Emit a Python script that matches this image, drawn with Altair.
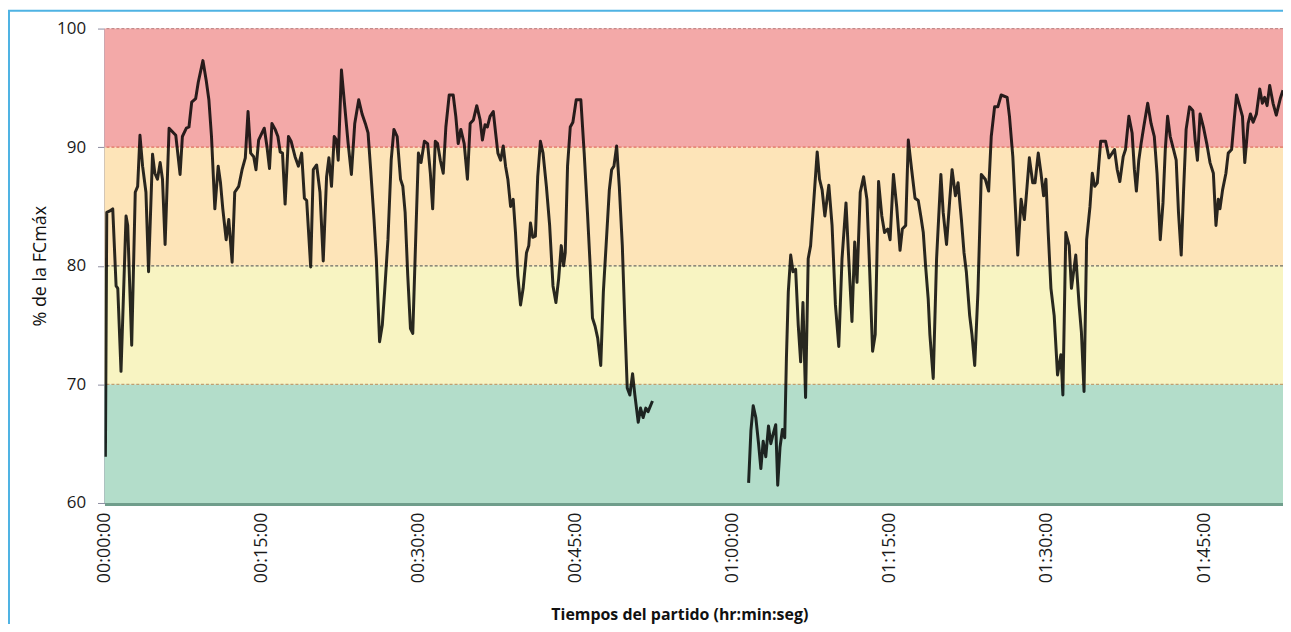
import altair as alt
import pandas as pd

# ---- data (minutes from kick-off, % of HRmax) ----
seg1_min = [0.09, 0.22, 0.47, 0.79, 1.11, 1.27, 1.58, 2.06, 2.22, 2.60,
            2.94, 3.17, 3.39, 3.64, 3.96, 4.21, 4.59, 4.81, 5.06, 5.32,
            5.54, 5.79, 6.17, 6.49, 6.81, 7.22, 7.44, 7.82, 8.07, 8.33,
            8.71, 8.96, 9.40, 9.72, 9.97, 10.22, 10.54, 10.86, 11.08, 11.30,
            11.62, 11.87, 12.19, 12.44, 12.82, 13.14, 13.45, 13.71, 13.96, 14.25,
            14.47, 14.72, 15.04, 15.26, 15.51, 15.76, 15.99, 16.30, 16.56, 16.78,
            17.00, 17.25, 17.57, 17.82, 18.20, 18.52, 18.83, 19.09, 19.31, 19.69,
            19.94, 20.26, 20.58, 20.89, 21.21, 21.43, 21.68, 21.94, 22.16, 22.32,
            22.63, 22.95, 23.27, 23.58, 23.90, 24.28, 24.60, 24.91, 25.17, 25.42,
            25.74, 25.96, 26.27, 26.53, 26.75, 27.07, 27.38, 27.64, 27.95, 28.27,
            28.49, 28.71, 28.96, 29.22, 29.44, 29.76, 29.98, 30.23, 30.55, 30.86,
            31.12, 31.34, 31.59, 31.81, 32.07, 32.35, 32.60, 32.92, 33.30, 33.55,
            33.78, 34.03, 34.35, 34.66, 34.92, 35.23, 35.55, 35.87, 36.09, 36.34,
            36.56, 36.82, 37.13, 37.35, 37.57, 37.83, 38.08, 38.30, 38.52, 38.78,
            39.03, 39.25, 39.47, 39.73, 39.98, 40.30, 40.52, 40.68, 40.90, 41.15,
            41.37, 41.63, 41.88, 42.20, 42.51, 42.83, 43.11, 43.37, 43.62, 43.84,
            44.00, 44.22, 44.48, 44.73, 45.05, 45.49, 45.81, 46.12, 46.38, 46.60,
            46.85, 47.10, 47.39, 47.64, 47.90, 48.21, 48.43, 48.65, 48.91, 49.16,
            49.45, 49.70, 49.92, 50.17, 50.43, 50.65, 50.97, 51.19, 51.44, 51.69,
            51.91, 52.33]
seg1_val = [63.9, 84.5, 84.6, 84.8, 78.3, 78.1, 71.1, 84.2, 83.4, 73.3,
            86.2, 86.7, 91.0, 88.4, 86.2, 79.5, 89.4, 87.8, 87.3, 88.7,
            87.3, 81.8, 91.6, 91.3, 91.0, 87.7, 90.9, 91.6, 91.7, 93.8,
            94.1, 95.5, 97.3, 95.6, 94.0, 90.9, 84.8, 88.4, 87.0, 84.8,
            82.2, 83.9, 80.3, 86.2, 86.7, 88.1, 89.1, 93.0, 89.5, 89.2,
            88.1, 90.6, 91.2, 91.6, 90.1, 88.2, 92.0, 91.5, 90.9, 89.6,
            89.5, 85.2, 90.9, 90.5, 89.2, 88.4, 89.5, 85.7, 85.5, 79.9,
            88.1, 88.5, 86.2, 80.4, 87.5, 89.1, 86.7, 90.9, 90.6, 88.9,
            96.5, 93.4, 90.3, 87.7, 92.0, 94.0, 92.8, 92.0, 91.2, 88.1,
            83.9, 80.6, 73.6, 75.0, 77.8, 82.2, 88.9, 91.5, 90.9, 87.3,
            86.7, 84.5, 79.2, 74.7, 74.3, 83.4, 89.5, 88.7, 90.5, 90.3,
            87.8, 84.8, 90.5, 90.3, 88.9, 87.8, 91.7, 94.4, 94.4, 92.6,
            90.3, 91.5, 90.3, 87.3, 92.0, 92.3, 93.5, 92.3, 90.6, 91.9,
            91.7, 92.6, 93.0, 91.2, 89.5, 88.9, 90.1, 88.4, 87.3, 85.0,
            85.6, 82.8, 79.2, 76.7, 78.1, 81.1, 81.7, 83.6, 82.4, 82.5,
            87.5, 90.5, 89.5, 86.7, 83.4, 78.3, 76.9, 78.9, 81.7, 80.0,
            81.1, 88.4, 91.7, 92.1, 94.0, 94.0, 89.5, 84.5, 80.0, 75.6,
            74.9, 73.9, 71.6, 77.8, 81.7, 86.4, 88.1, 88.4, 90.1, 86.7,
            81.7, 75.0, 69.7, 69.1, 70.9, 69.1, 66.8, 68.0, 67.2, 68.0,
            67.7, 68.6]

seg2_min = [61.51, 61.73, 61.95, 62.20, 62.46, 62.68, 62.90, 63.15, 63.41, 63.63,
            63.85, 64.10, 64.29, 64.51, 64.74, 64.96, 65.12, 65.30, 65.53, 65.75,
            66.00, 66.25, 66.48, 66.70, 66.95, 67.20, 67.43, 67.68, 68.06, 68.28,
            68.53, 68.79, 69.17, 69.48, 69.80, 70.12, 70.43, 70.81, 71.07, 71.38,
            71.64, 71.86, 72.17, 72.49, 72.81, 73.03, 73.35, 73.60, 73.92, 74.23,
            74.49, 74.80, 75.02, 75.34, 75.65, 75.97, 76.19, 76.51, 76.76, 77.08,
            77.40, 77.71, 77.97, 78.19, 78.41, 78.66, 78.82, 79.14, 79.46, 79.87,
            80.09, 80.41, 80.72, 80.94, 81.26, 81.51, 81.83, 82.08, 82.30, 82.62,
            82.84, 83.10, 83.41, 83.73, 84.11, 84.43, 84.68, 85.00, 85.31, 85.63,
            86.20, 86.42, 86.74, 86.96, 87.21, 87.53, 87.84, 88.10, 88.32, 88.64,
            88.86, 89.17, 89.43, 89.68, 89.90, 90.12, 90.38, 90.69, 91.01, 91.33,
            91.52, 91.80, 92.12, 92.34, 92.75, 93.07, 93.29, 93.54, 93.79, 94.11,
            94.33, 94.56, 94.81, 95.13, 95.60, 95.92, 96.23, 96.45, 96.71, 96.96,
            97.28, 97.50, 97.82, 98.13, 98.35, 98.54, 98.77, 98.99, 99.24, 99.62,
            99.94, 100.25, 100.51, 100.82, 101.08, 101.30, 101.52, 101.77, 102.09, 102.34,
            102.56, 102.82, 103.04, 103.29, 103.61, 103.93, 104.15, 104.37, 104.62, 104.94,
            105.26, 105.57, 105.89, 106.14, 106.36, 106.52, 106.77, 107.09, 107.31, 107.63,
            107.85, 108.10, 108.42, 108.67, 108.89, 109.21, 109.43, 109.69, 110.00, 110.32,
            110.57, 110.79, 111.02, 111.27, 111.59, 111.90, 112.28, 112.54]
seg2_val = [61.7, 66.1, 68.2, 67.2, 65.0, 62.9, 65.2, 63.9, 66.5, 65.0,
            65.8, 66.6, 61.5, 64.7, 66.2, 65.5, 72.2, 77.8, 80.9, 79.5,
            79.7, 75.0, 71.9, 76.9, 68.9, 80.6, 81.7, 84.8, 89.6, 87.3,
            86.4, 84.2, 86.8, 83.4, 76.7, 73.2, 80.6, 85.3, 80.6, 75.3,
            82.0, 78.6, 86.2, 87.5, 85.6, 80.6, 72.8, 74.2, 87.1, 84.2,
            82.8, 83.1, 82.2, 87.7, 85.0, 81.3, 83.1, 83.4, 90.6, 88.1,
            85.7, 85.5, 84.1, 82.8, 80.0, 77.2, 74.2, 70.5, 80.6, 87.7,
            84.5, 81.8, 85.6, 88.1, 85.9, 87.0, 83.9, 81.1, 79.5, 75.8,
            74.2, 71.6, 77.8, 87.7, 87.3, 86.3, 90.9, 93.4, 93.4, 94.4,
            94.2, 92.6, 89.2, 85.3, 80.9, 85.6, 83.9, 86.7, 89.1, 87.0,
            87.0, 89.5, 87.8, 85.9, 87.3, 82.8, 78.1, 75.8, 70.8, 72.5,
            69.1, 82.8, 81.7, 78.1, 80.9, 76.7, 74.4, 69.4, 82.2, 85.0,
            87.8, 86.7, 87.0, 90.5, 90.5, 89.1, 89.5, 89.8, 88.1, 87.1,
            89.2, 89.8, 92.6, 91.2, 88.1, 86.3, 88.9, 90.3, 91.7, 93.7,
            92.0, 90.9, 87.8, 82.2, 85.3, 89.8, 92.6, 90.9, 89.8, 88.9,
            84.5, 80.9, 86.2, 91.5, 93.4, 93.1, 90.6, 88.9, 92.8, 91.7,
            90.3, 88.7, 87.8, 83.4, 85.6, 84.8, 86.4, 87.8, 89.5, 89.8,
            92.0, 94.4, 93.4, 92.6, 88.7, 92.0, 92.8, 92.1, 92.8, 94.9,
            93.7, 94.2, 93.5, 95.2, 93.7, 92.7, 94.1, 94.8]

zone_low = [60, 70, 80, 90]
zone_high = [70, 80, 90, 100]
zone_colors = ["#b3ddca", "#f8f4c2", "#fde4b8", "#f3a9a8"]

ref_values = [70, 80, 90, 100]
ref_colors = ["#c0a070", "#6b6b62", "#e0735e", "#c48a8a"]

x_ticks = [0, 15, 30, 45, 60, 75, 90, 105]
y_ticks = [60, 70, 80, 90, 100]
x_max = 112.54

W, H = 1185, 477

# ---- tables ----
line_df = pd.concat([
    pd.DataFrame({"m": seg1_min, "v": seg1_val, "seg": "a"}),
    pd.DataFrame({"m": seg2_min, "v": seg2_val, "seg": "b"}),
])
zones_df = pd.DataFrame({"lo": zone_low, "hi": zone_high, "c": zone_colors})
refs_df = pd.DataFrame({"v": ref_values, "c": ref_colors})

FONT = "Open Sans"
yscale = alt.Scale(domain=[60, 100], nice=False, zero=False)
xscale = alt.Scale(domain=[0, x_max], nice=False, zero=False)

yaxis = alt.Axis(values=y_ticks, grid=False, domainColor="#8c8ca0", domainWidth=1.5,
                 tickColor="#8c8ca0", tickSize=7, labelPadding=12,
                 labelFont=FONT, labelFontSize=17, labelColor="#1a1a1a",
                 title="% de la FCmáx", titleFont=FONT, titleFontSize=18,
                 titleFontWeight="normal", titleColor="#111111",
                 titleX=-64, titleY=H / 2, titleAngle=270, titleAlign="center",
                 titleBaseline="middle")

label_expr = ("pad(toString(floor(datum.value/60)), 2, '0', 'left') + ':' + "
              "pad(toString(datum.value % 60), 2, '0', 'left') + ':00'")

xaxis = alt.Axis(values=x_ticks, grid=False, ticks=False, domainColor="#6f9d8b",
                 domainWidth=5, labelAngle=270, labelAlign="right",
                 labelBaseline="middle", labelPadding=9, labelOverlap=False,
                 labelFlush=False, labelExpr=label_expr,
                 labelFont=FONT, labelFontSize=18, labelColor="#1a1a1a",
                 title="Tiempos del partido (hr:min:seg)", titleFont=FONT,
                 titleFontSize=16, titleFontWeight="bold", titleColor="#111111",
                 titleX=578, titleY=112, titleAlign="center", titleBaseline="middle")

zones = alt.Chart(zones_df).mark_rect().encode(
    x=alt.value(0), x2=alt.value(W),
    y=alt.Y("lo:Q", scale=yscale, axis=yaxis), y2="hi:Q",
    color=alt.Color("c:N", scale=None),
)

refs = alt.Chart(refs_df).mark_rule(strokeDash=[3, 2], strokeWidth=1.3).encode(
    y=alt.Y("v:Q", scale=yscale, axis=yaxis),
    color=alt.Color("c:N", scale=None),
)

line = alt.Chart(line_df).mark_line(color="#000000", opacity=0.84, strokeWidth=3,
                                    strokeJoin="round", clip=True).encode(
    x=alt.X("m:Q", scale=xscale, axis=xaxis),
    y=alt.Y("v:Q", scale=yscale, axis=yaxis),
    detail="seg:N",
    order=alt.Order("m:Q"),
)

frame = alt.Chart(pd.DataFrame({"k": [0]})).mark_rect(
    fillOpacity=0, stroke="#4fb3e3", strokeWidth=2).encode(
    x=alt.value(-96), y=alt.value(-18), x2=alt.value(W + 40), y2=alt.value(H + 200),
)

chart = alt.layer(zones, refs, line, frame).properties(
    width=W, height=H,
    autosize=alt.AutoSizeParams(type="none"),
    padding={"left": 97, "top": 19, "right": 0, "bottom": 120},
    background="white",
).configure_view(strokeWidth=0)

chart.save("out.html", embed_options={"renderer": "svg", "actions": False})
